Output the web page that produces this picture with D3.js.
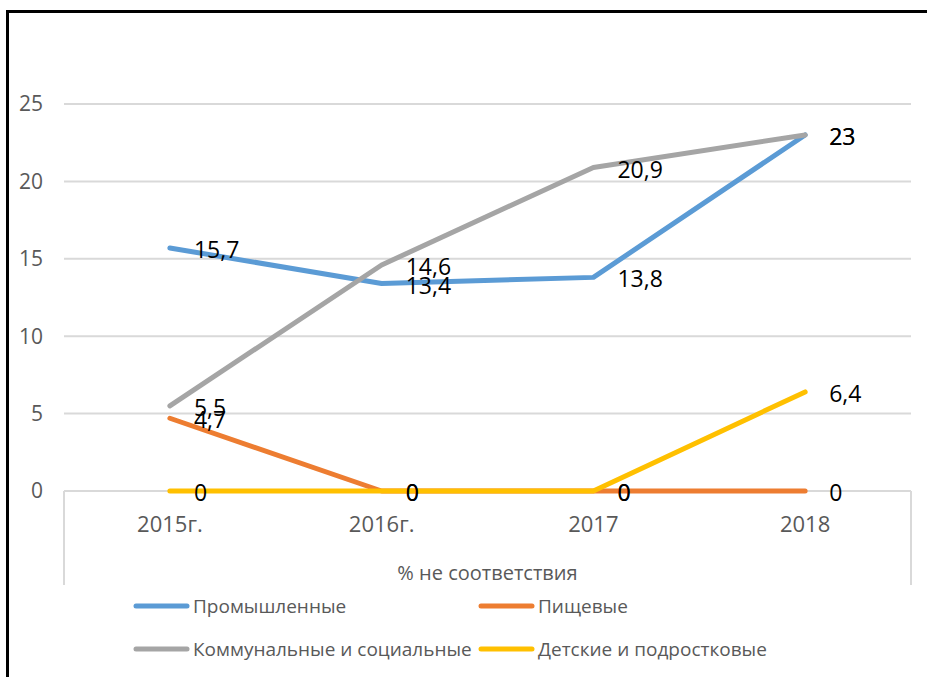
<!DOCTYPE html>
<html>
<head>
<meta charset="utf-8">
<script src="https://cdn.jsdelivr.net/npm/d3@7"></script>
<style>
  html, body { margin: 0; padding: 0; background: #fff; }
  svg { display: block; }
</style>
</head>
<body>
<svg id="chart" width="927" height="677"></svg>
<script>
// Years on the category axis
const categories = ["2015г.", "2016г.", "2017", "2018"];

// Share of samples not meeting standards, by object type (%)
const seriesNames = ["Промышленные", "Пищевые", "Коммунальные и социальные", "Детские и подростковые"];
const industrial = [15.7, 13.4, 13.8, 23];
const food = [4.7, 0, 0, 0];
const communal = [5.5, 14.6, 20.9, 23];
const children = [0, 0, 0, 6.4];

const yTicks = [0, 5, 10, 15, 20, 25];
const axisTitle = "% не соответствия";

const colors = ["#5B9BD5", "#ED7D31", "#A5A5A5", "#FFC000"];
const seriesValues = [industrial, food, communal, children];

const svg = d3.select("#chart");
const font = "'Open Sans', 'Noto Sans', sans-serif";

// outer frame
svg.append("rect")
  .attr("x", 7.5).attr("y", 11.5)
  .attr("width", 1000).attr("height", 1000)
  .attr("fill", "none").attr("stroke", "#000").attr("stroke-width", 3);

const plot = { left: 64, right: 911, top: 104, bottom: 491 };

const x = d3.scaleBand().domain(categories).range([plot.left, plot.right]);
const y = d3.scaleLinear().domain([0, 25]).range([plot.bottom, plot.top]);

// gridlines
svg.append("g")
  .selectAll("line")
  .data(yTicks)
  .join("line")
  .attr("x1", plot.left).attr("x2", plot.right)
  .attr("y1", d => y(d)).attr("y2", d => y(d))
  .attr("stroke", "#d9d9d9").attr("stroke-width", 2);

// y tick labels
svg.append("g")
  .selectAll("text")
  .data(yTicks)
  .join("text")
  .attr("x", 43).attr("y", d => y(d))
  .attr("dy", "0.35em")
  .attr("text-anchor", "end")
  .attr("font-family", font).attr("font-size", 21)
  .attr("fill", "#595959")
  .text(d => d);

// category axis frame (verticals down to the axis title area)
const axisBottom = 585;
[plot.left, plot.right].forEach(px => {
  svg.append("line")
    .attr("x1", px).attr("x2", px)
    .attr("y1", plot.bottom).attr("y2", axisBottom)
    .attr("stroke", "#d9d9d9").attr("stroke-width", 2);
});

// category labels
svg.append("g")
  .selectAll("text")
  .data(categories)
  .join("text")
  .attr("x", d => x(d) + x.bandwidth() / 2)
  .attr("y", 524)
  .attr("dy", "0.35em")
  .attr("text-anchor", "middle")
  .attr("font-family", font).attr("font-size", 22)
  .attr("fill", "#595959")
  .text(d => d);

// axis title
svg.append("text")
  .attr("x", (plot.left + plot.right) / 2)
  .attr("y", 573)
  .attr("dy", "0.35em")
  .attr("text-anchor", "middle")
  .attr("font-family", font).attr("font-size", 20)
  .attr("fill", "#595959")
  .text(axisTitle);

// series lines
const line = d3.line()
  .x((d, i) => x(categories[i]) + x.bandwidth() / 2)
  .y(d => y(d));

svg.append("g")
  .selectAll("path")
  .data(seriesValues)
  .join("path")
  .attr("d", d => line(d))
  .attr("fill", "none")
  .attr("stroke", (d, i) => colors[i])
  .attr("stroke-width", 5)
  .attr("stroke-linecap", "round")
  .attr("stroke-linejoin", "round");

// data labels to the right of each point
const fmt = v => String(v).replace(".", ",");
seriesValues.forEach(vals => {
  svg.append("g")
    .selectAll("text")
    .data(vals)
    .join("text")
    .attr("x", (d, i) => x(categories[i]) + x.bandwidth() / 2 + 24)
    .attr("y", d => y(d) + 2)
    .attr("dy", "0.35em")
    .attr("font-family", font).attr("font-size", 23)
    .attr("fill", "#000")
    .text(d => fmt(d));
});

// legend
const legendItems = [
  { col: 0, row: 0, s: 0 },
  { col: 1, row: 0, s: 1 },
  { col: 0, row: 1, s: 2 },
  { col: 1, row: 1, s: 3 }
];
const colX = [133, 478];
const rowY = [606, 649];
const lg = svg.append("g")
  .selectAll("g")
  .data(legendItems)
  .join("g")
  .attr("transform", d => `translate(${colX[d.col]},${rowY[d.row]})`);
lg.append("line")
  .attr("x1", 3).attr("x2", 54)
  .attr("stroke", d => colors[d.s])
  .attr("stroke-width", 5)
  .attr("stroke-linecap", "round");
lg.append("text")
  .attr("x", 60)
  .attr("dy", "0.35em")
  .attr("font-family", font).attr("font-size", 19)
  .attr("fill", "#595959")
  .text(d => seriesNames[d.s]);
</script>
</body>
</html>
